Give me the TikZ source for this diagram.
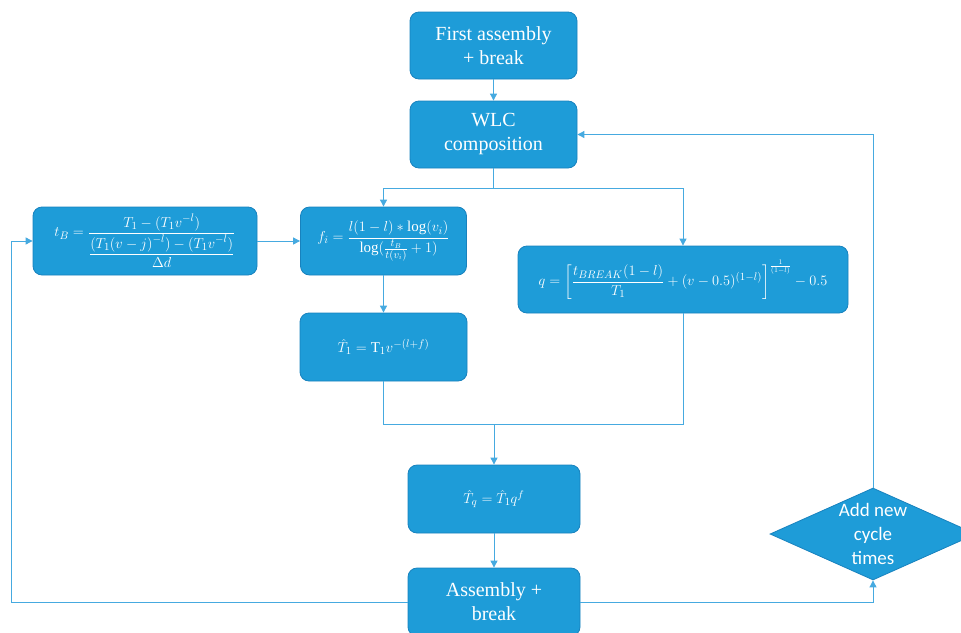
\documentclass[tikz,border=0pt]{standalone}
\usepackage{amsmath}
\usepackage{fontspec}
\setmainfont{Liberation Serif}
\newfontfamily\carlito{Carlito}
\usetikzlibrary{arrows.meta,shapes.geometric}
\definecolor{boxfill}{RGB}{30,156,216}
\definecolor{boxline}{RGB}{24,130,190}
\definecolor{linecol}{RGB}{70,170,224}
\tikzset{
  box/.style={draw=boxline,fill=boxfill,line width=0.8pt,rounded corners=9pt,
    text=white,inner sep=0pt,align=center,font=\fontsize{20}{24}\selectfont},
  mbox/.style={box,font=\fontsize{15}{18}\selectfont},
  conn/.style={draw=linecol,line width=0.9pt},
  arr/.style={conn,-{Triangle[length=7pt,width=7pt]}}
}
\begin{document}
\begin{tikzpicture}[x=1pt,y=-1pt]
\useasboundingbox (0,0) rectangle (961,632);
\clip (0,0) rectangle (961,632);
% nodes
\node[box,minimum width=167pt,minimum height=67pt] (first) at (493.5,45.5) {First assembly\\+ break};
\node[box,minimum width=167pt,minimum height=67pt] (wlc) at (493.5,134.5) {WLC\\composition};
\node[mbox,minimum width=224pt,minimum height=68pt] (tb) at (145,241)
  {$t_B=\dfrac{T_1-(T_1v^{-l})}{\dfrac{(T_1(v-j)^{-l})-(T_1v^{-l})}{\Delta d}}$};
\node[mbox,minimum width=166pt,minimum height=68pt] (fi) at (383.5,241)
  {$f_i=\dfrac{l(1-l)*\log(v_i)}{\log(\frac{t_B}{t(v_i)}+1)}$};
\node[mbox,minimum width=330pt,minimum height=67pt] (q) at (683,279.5)
  {$q=\left[\dfrac{t_{BREAK}(1-l)}{T_1}+(v-0.5)^{(1-l)}\right]^{\frac{1}{(1-l)}}-0.5$};
\node[mbox,minimum width=167pt,minimum height=68pt] (t1) at (383.5,347)
  {$\hat{T}_1=\mathrm{T}_1v^{-(l+f)}$};
\node[mbox,minimum width=172pt,minimum height=68pt] (tq) at (494,499)
  {$\hat{T}_q=\hat{T}_1q^f$};
\node[box,minimum width=172pt,minimum height=68pt] (asm) at (494,602) {Assembly +\\break};
\node[draw=boxline,fill=boxfill,line width=0.8pt,shape=diamond,inner sep=0pt,
  minimum width=206pt,minimum height=92pt] (dia) at (873,534) {};
\node[text=white,align=center,font=\carlito\fontsize{19}{24}\selectfont] (diatext) at (873,534) {Add new\\cycle\\times};
% coordinates
\coordinate (split) at (493.5,188);
\coordinate (merge) at (494,424);
\coordinate (lc) at (11,241);
% connectors
\draw[arr] (first) -- (wlc);
\draw[conn] (wlc.south) -- (split);
\draw[arr] (split) -| (fi.north);
\draw[arr] (split) -| (q.north);
\draw[arr] (tb.east) -- (fi.west);
\draw[arr] (fi.south) -- (t1.north);
\draw[conn] (t1.south) |- (merge);
\draw[conn] (q.south) |- (merge);
\draw[arr] (merge) -- (tq.north);
\draw[arr] (tq.south) -- (asm.north);
\draw[arr] (asm.west) -| (lc) -- (tb.west);
\draw[arr] (asm.east) -| (dia.south);
\draw[arr] (dia.north) |- (wlc.east);
\end{tikzpicture}
\end{document}
